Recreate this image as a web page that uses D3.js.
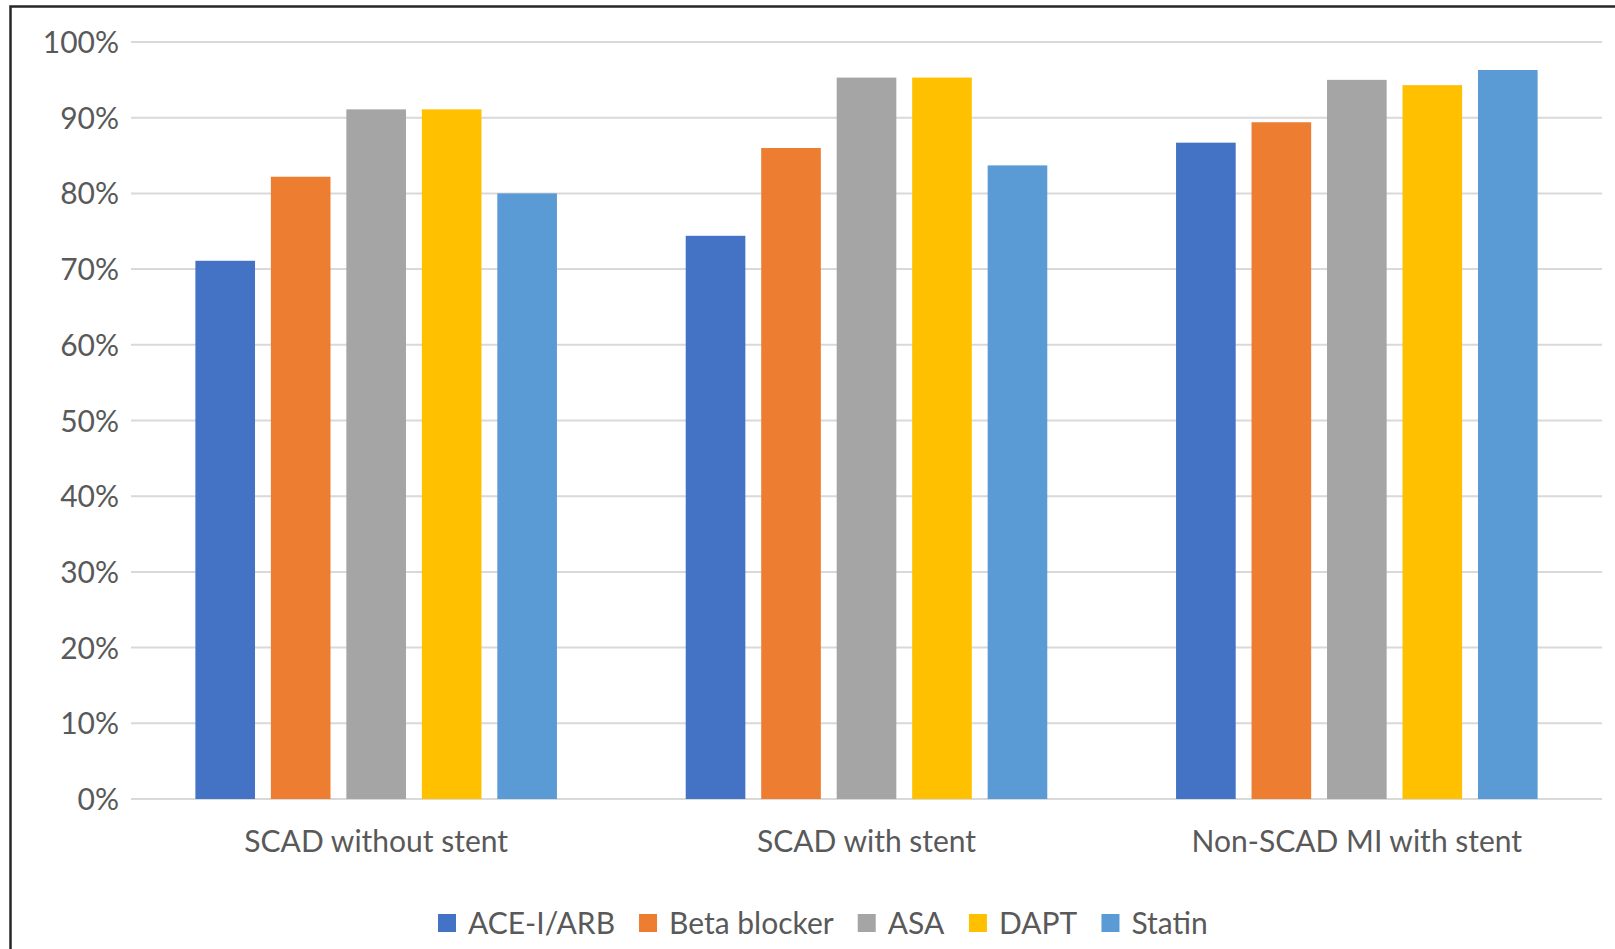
<!DOCTYPE html>
<html>
<head>
<meta charset="utf-8">
<script src="https://cdn.jsdelivr.net/npm/d3@7"></script>
<style>
  html, body { margin: 0; padding: 0; background: #ffffff; }
  svg { display: block; }
  text { font-family: Lato, "Open Sans", sans-serif; fill: #595959; }
</style>
</head>
<body>
<svg id="chart" width="1615" height="949"></svg>
<script>
// Medication use at discharge, by patient group
const categories = ["SCAD without stent", "SCAD with stent", "Non-SCAD MI with stent"];
const seriesNames = ["ACE-I/ARB", "Beta blocker", "ASA", "DAPT", "Statin"];
const seriesColors = ["#4472C4", "#ED7D31", "#A5A5A5", "#FFC000", "#5B9BD5"];
const aceArb      = [71.1, 74.4, 86.7];
const betaBlocker = [82.2, 86.0, 89.4];
const asa         = [91.1, 95.3, 95.0];
const dapt        = [91.1, 95.3, 94.3];
const statin      = [80.0, 83.7, 96.3];
const yTicks = [0, 10, 20, 30, 40, 50, 60, 70, 80, 90, 100];

const seriesValues = [aceArb, betaBlocker, asa, dapt, statin];

const svg = d3.select("#chart");
const W = 1615, H = 949;
const plot = { left: 131, right: 1602, top: 42, bottom: 799 };
const fontSize = 30;

// Outer frame
svg.append("rect")
  .attr("x", 10.5).attr("y", 6.5)
  .attr("width", W + 20).attr("height", H + 20)
  .attr("fill", "none")
  .attr("stroke", "#262626")
  .attr("stroke-width", 2.5);

const y = d3.scaleLinear().domain([0, 100]).range([plot.bottom, plot.top]);
const x0 = d3.scaleBand().domain(categories).range([plot.left, plot.right]).padding(0);
const x1 = d3.scaleBand().domain(seriesNames).range([0, x0.bandwidth()])
  .paddingInner(0.21).paddingOuter(0.853);

// Gridlines
svg.append("g")
  .selectAll("line")
  .data(yTicks)
  .join("line")
  .attr("x1", plot.left).attr("x2", plot.right)
  .attr("y1", d => y(d)).attr("y2", d => y(d))
  .attr("stroke", "#d9d9d9")
  .attr("stroke-width", 2);

// Y axis labels
const yAxis = d3.axisLeft(y).tickValues(yTicks).tickFormat(d => d + "%").tickSize(0).tickPadding(0);
const gy = svg.append("g").attr("transform", `translate(${plot.left - 12},0)`).call(yAxis);
gy.select(".domain").remove();
gy.selectAll("text")
  .attr("font-size", fontSize)
  .attr("font-family", "Lato, 'Open Sans', sans-serif")
  .attr("fill", "#595959")
  .attr("dy", "0.35em");

// Bars
const rows = [];
categories.forEach((c, ci) => {
  seriesNames.forEach((s, si) => {
    rows.push({ cat: c, series: s, value: seriesValues[si][ci], color: seriesColors[si] });
  });
});

svg.append("g")
  .selectAll("rect")
  .data(rows)
  .join("rect")
  .attr("x", d => x0(d.cat) + x1(d.series))
  .attr("y", d => y(d.value))
  .attr("width", x1.bandwidth())
  .attr("height", d => y(0) - y(d.value))
  .attr("fill", d => d.color);

// Category labels
const xAxis = d3.axisBottom(x0).tickSize(0).tickPadding(0);
const gx = svg.append("g").attr("transform", `translate(0,${plot.bottom + 42})`).call(xAxis);
gx.select(".domain").remove();
gx.selectAll("text")
  .attr("font-size", fontSize)
  .attr("font-family", "Lato, 'Open Sans', sans-serif")
  .attr("fill", "#595959")
  .attr("dy", "0.35em");

// Legend
const legendY = 923;
const legend = svg.append("g");
const items = legend.selectAll("g")
  .data(seriesNames.map((n, i) => ({ name: n, color: seriesColors[i] })))
  .join("g");
items.append("rect")
  .attr("width", 18).attr("height", 18)
  .attr("y", legendY - 9)
  .attr("fill", d => d.color);
items.append("text")
  .attr("x", 30)
  .attr("y", legendY)
  .attr("dy", "0.35em")
  .attr("font-size", fontSize)
  .text(d => d.name);

// Lay out legend entries side by side
const widths = [];
items.each(function () { widths.push(this.getBBox().width); });
const spacing = 24;
const start = 438;
let offset = 0;
items.attr("transform", (d, i) => {
  const t = `translate(${start + offset},0)`;
  offset += widths[i] + spacing;
  return t;
});
</script>
</body>
</html>
